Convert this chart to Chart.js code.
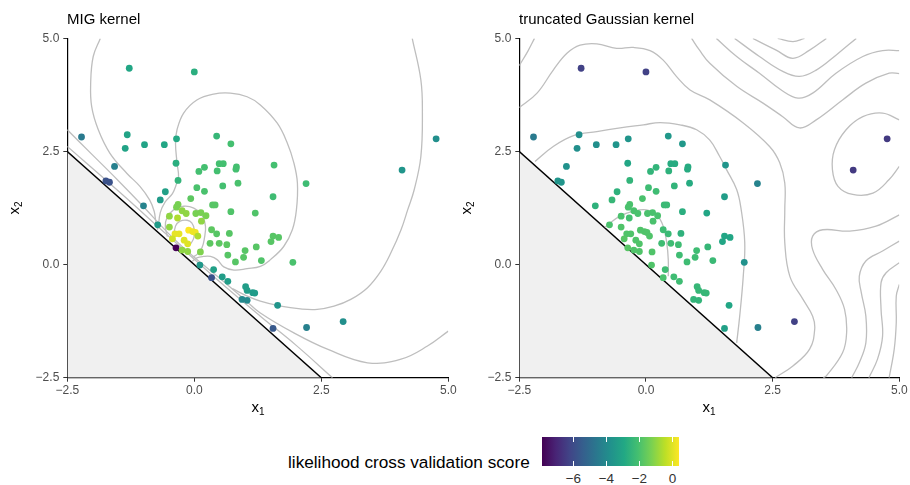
<!DOCTYPE html>
<html>
<head>
<meta charset="utf-8">
<script src="https://cdn.jsdelivr.net/npm/chart.js@4.4.1/dist/chart.umd.min.js"></script>
<style>
  body { margin: 0; background: #fff; font-family: "Liberation Sans", Arial, sans-serif; }
  #wrap { position: relative; width: 910px; height: 485px; overflow: hidden; }
  canvas { position: absolute; top: 0; }
  .ptitle { position: absolute; top: 10px; font-size: 15px; color: #000; white-space: nowrap; }
  .axt { position: absolute; font-size: 15px; color: #000; white-space: nowrap; line-height: 1; }
  .axt sub { font-size: 10px; vertical-align: -3px; }
  .axt.rot { transform: translate(-50%, -50%) rotate(-90deg); }
  .axt.hor { transform: translateX(-50%); }
  #legTitle { position: absolute; left: 288px; top: 452px; font-size: 17.2px; color: #000; white-space: nowrap; }
  #bar { position: absolute; left: 542px; top: 437px; width: 137px; height: 29px; }
  .btick { position: absolute; width: 1px; height: 5px; background: #fff; }
  .blab { position: absolute; top: 471px; font-size: 13.5px; color: #333; transform: translateX(-50%); white-space: nowrap; }
</style>
</head>
<body>
<div id="wrap">
  <canvas id="migChart" width="475" height="400" style="left:0"></canvas>
  <canvas id="gaussChart" width="458" height="400" style="left:452px"></canvas>
  <div class="ptitle" style="left:67px">MIG kernel</div>
  <div class="ptitle" style="left:519px">truncated Gaussian kernel</div>
  <div class="axt hor" style="left:258px; top:399px">x<sub>1</sub></div>
  <div class="axt hor" style="left:709px; top:399px">x<sub>1</sub></div>
  <div class="axt rot" style="left:15px; top:208px">x<sub>2</sub></div>
  <div class="axt rot" style="left:467px; top:208px">x<sub>2</sub></div>
  <div id="legTitle">likelihood cross validation score</div>
  <div id="bar"></div>
</div>
<script>
// sample locations (shared by both panels)
const pointX = [-1.28, 0.00, -2.22, -1.32, -1.36, -0.98, -0.59, -0.35, 0.44, 0.72,
  4.76, -1.57, -1.74, -1.67, -0.36, 0.49, 0.57, 0.20, 0.09, 0.45,
  0.83, 0.82, 1.57, 4.09, -0.32, 0.05, 0.56, 0.86, 2.20, 0.20,
  -0.57, -0.67, -1.00, -0.07, 1.55, 0.36, 0.41, -0.32, -0.35, -0.24,
  -0.16, 0.03, 0.13, 0.23, 0.72, 1.20, -0.72, -0.49, -0.33, 0.14,
  -0.49, -0.38, -0.30, -0.11, -0.03, 0.02, 0.07, 0.34, 0.44, 0.69,
  1.55, 1.66, 1.51, -0.43, -0.20, -0.13, 0.31, 0.49, 0.64, 1.22,
  -0.36, -0.24, -0.13, 0.12, 0.66, 0.81, 1.00, 0.97, 1.32, 1.94,
  0.11, 0.38, 0.34, 0.55, 0.66, 1.01, 1.04, 1.15, 1.19, 0.94,
  1.04, 1.64, 1.55, 2.21, 2.93];
const pointY = [4.34, 4.26, 2.82, 2.87, 2.57, 2.65, 2.65, 2.78, 2.84, 2.67,
  2.78, 2.17, 1.85, 1.82, 2.24, 2.23, 2.23, 2.15, 2.06, 2.07,
  2.16, 2.11, 2.20, 2.09, 1.86, 1.70, 1.74, 1.80, 1.79, 1.62,
  1.61, 1.43, 1.30, 1.46, 1.50, 1.32, 1.32, 1.33, 1.27, 1.19,
  1.13, 1.13, 1.15, 1.08, 1.17, 1.14, 0.88, 1.07, 1.03, 0.96,
  0.83, 0.68, 0.68, 0.76, 0.73, 0.71, 0.63, 0.77, 0.68, 0.69,
  0.63, 0.60, 0.51, 0.57, 0.54, 0.46, 0.47, 0.47, 0.44, 0.39,
  0.37, 0.32, 0.29, 0.28, 0.21, 0.06, 0.31, 0.16, 0.09, 0.05,
  -0.01, -0.11, -0.29, -0.27, -0.37, -0.49, -0.57, -0.62, -0.63, -0.77,
  -0.79, -0.90, -1.41, -1.39, -1.26];

// likelihood cross validation score per sample
const scoreMIG = [-3.0, -2.7, -4.5, -3.1, -3.1, -3.1, -3.0, -2.9, -2.4, -2.1,
  -3.8, -4.3, -5.8, -5.8, -2.7, -2.1, -2.1, -2.1, -2.1, -2.1,
  -2.1, -2.1, -2.1, -3.6, -2.5, -2.0, -2.1, -2.0, -2.2, -2.0,
  -3.2, -3.4, -4.2, -1.7, -2.2, -1.8, -1.8, -1.3, -1.3, -1.0,
  -1.0, -1.3, -1.3, -1.3, -1.9, -1.9, -3.4, -1.0, -0.6, -1.0,
  -1.0, 0.1, 0.1, 0.4, 0.2, 0.2, -0.6, -1.7, -1.8, -1.8,
  -1.8, -1.8, -1.8, -0.2, 0.0, 0.0, -1.7, -1.7, -1.7, -1.8,
  -7.9, -1.0, -1.0, -1.2, -1.8, -1.8, -1.8, -1.8, -1.9, -2.0,
  -3.5, -3.2, -5.8, -3.3, -3.3, -3.3, -3.3, -3.4, -3.4, -4.0,
  -4.0, -3.6, -5.6, -4.3, -3.8];
const scoreGauss = [-6.3, -6.3, -4.5, -3.8, -3.8, -3.8, -3.6, -3.6, -3.5, -3.5,
  -6.5, -3.7, -3.6, -3.6, -3.0, -2.8, -2.8, -2.5, -2.5, -2.6,
  -2.8, -2.8, -3.6, -6.5, -2.5, -2.2, -2.5, -2.8, -4.2, -2.2,
  -2.6, -2.4, -2.6, -2.0, -3.3, -2.3, -2.3, -2.0, -2.0, -2.0,
  -2.0, -2.0, -2.0, -2.0, -2.7, -3.0, -2.0, -2.0, -2.1, -2.0,
  -1.9, -1.9, -1.9, -1.9, -1.9, -1.9, -1.9, -2.2, -2.3, -2.6,
  -3.0, -3.0, -3.0, -1.8, -1.9, -1.9, -2.2, -2.2, -2.2, -2.4,
  -1.8, -1.9, -1.9, -1.9, -2.2, -2.2, -2.2, -2.2, -2.3, -3.7,
  -1.9, -2.2, -2.0, -2.2, -2.2, -2.4, -2.4, -2.4, -2.4, -2.5,
  -2.5, -3.0, -3.2, -4.3, -6.3];

const scoreMin = -7.9;
const scoreMax = 0.4;
const axisTicks = [-2.5, 0, 2.5, 5];
const legendTicks = [-6, -4, -2, 0];
const viridisStops = ["#440154", "#482475", "#414487", "#355f8d", "#2a788e", "#21918c",
  "#22a884", "#44bf70", "#7ad151", "#bddf26", "#fde725"];

// density contour paths, [x1, x2] pairs
const migContours = [
  [[-1.85, 5.0], [-1.99, 4.6], [-2.04, 4.01], [-2.02, 3.49], [-1.89, 2.98], [-1.66, 2.46], [-1.33, 2.02],
   [-1.07, 1.73], [-0.88, 1.43], [-0.79, 1.18], [-0.76, 0.96], [-0.72, 0.77]],
  [[4.29, 5.0], [4.46, 4.08], [4.49, 3.35], [4.46, 2.39], [4.33, 1.66], [4.2, 1.21], [4.07, 0.77], [3.87, 0.26],
   [3.67, -0.15], [3.41, -0.51], [3.08, -0.77], [2.75, -0.92], [2.42, -0.99], [2.09, -0.98], [1.7, -0.92],
   [1.3, -0.81], [1.01, -0.68], [0.75, -0.53]],
  [[-0.71, 0.8], [-0.67, 1.15], [-0.57, 1.39], [-0.43, 1.57], [-0.355, 1.77], [-0.31, 1.95], [-0.34, 2.25],
   [-0.37, 2.69], [-0.34, 2.98], [-0.21, 3.35], [0.05, 3.64], [0.38, 3.77], [0.71, 3.79], [1.04, 3.71],
   [1.3, 3.53], [1.63, 3.13], [1.83, 2.69], [1.96, 2.25], [2.03, 1.8], [2.01, 1.21], [1.93, 0.77], [1.76, 0.4],
   [1.5, 0.11], [1.3, -0.04], [1.04, -0.09], [0.78, -0.12], [0.58, -0.05], [0.45, 0.11], [0.32, 0.18],
   [0.18, 0.18], [0.05, 0.15], [-0.04, 0.07]],
  [[-0.53, 0.62], [-0.57, 0.85], [-0.54, 1.03], [-0.41, 1.21], [-0.21, 1.29], [-0.01, 1.25], [0.15, 1.1],
   [0.22, 0.85], [0.2, 0.59], [0.15, 0.37], [0.05, 0.22], [-0.04, 0.16]],
  [[-0.41, 0.55], [-0.37, 0.85], [-0.28, 0.96], [-0.14, 0.98], [-0.05, 0.92], [0.0, 0.77], [-0.01, 0.59], [-0.08, 0.44]],
  [[-2.5, 2.98], [-2.0, 2.42], [-1.5, 1.86], [-1.0, 1.28], [-0.5, 0.68], [0.0, 0.16], [0.5, -0.3], [1.0, -0.78],
   [1.3, -1.07], [1.96, -1.51], [2.62, -1.87], [3.41, -2.17], [4.07, -2.09], [4.59, -1.8], [5.0, -1.47]],
  [[-2.5, 2.61], [-1.5, 1.63], [-0.5, 0.62], [0.5, -0.38], [1.3, -1.14], [2.0, -1.78], [2.72, -2.5]]
];

const gaussContours = [
  [[-2.2, 5.0], [-2.33, 4.72], [-2.5, 4.4]],
  [[-2.5, 3.47], [-2.15, 3.79], [-1.83, 4.3], [-1.56, 4.67], [-1.3, 4.85], [-0.97, 4.88], [-0.58, 4.78],
   [-0.25, 4.8], [0.08, 4.73], [0.34, 4.52], [0.6, 4.16], [0.87, 3.86], [1.26, 3.64], [1.92, 3.13],
   [2.44, 2.61], [2.64, 2.25], [2.74, 1.8], [2.74, 1.21], [2.74, 0.48], [2.84, -0.26], [3.1, -0.77],
   [3.29, -1.14], [3.33, -1.43], [3.23, -1.87], [2.9, -2.24], [2.55, -2.5]],
  [[-2.19, 2.28], [-1.83, 2.61], [-1.43, 2.85], [-0.97, 2.94], [-0.51, 3.02], [-0.05, 3.09], [0.28, 3.14],
   [0.67, 3.09], [1.0, 2.98], [1.26, 2.75], [1.45, 2.4], [1.59, 2.1], [1.79, 1.66], [1.88, 1.21], [1.95, 0.48],
   [1.92, -0.26], [1.85, -1.14], [1.79, -1.73]],
  [[-0.81, 0.82], [-0.71, 0.92], [-0.51, 1.07], [-0.25, 1.18], [0.01, 1.21], [0.21, 1.1], [0.34, 0.85],
   [0.41, 0.48], [0.44, 0.11], [0.44, -0.26]],
  [[2.6, 5.0], [2.9, 4.93], [3.13, 5.0]],
  [[2.11, 5.0], [2.57, 4.74], [2.9, 4.56], [3.23, 4.74], [3.56, 5.0]],
  [[1.75, 5.0], [2.24, 4.6], [2.7, 4.27], [3.03, 4.16], [3.36, 4.3], [3.75, 4.63], [4.15, 5.0]],
  [[1.39, 5.0], [1.79, 4.6], [2.24, 4.23], [2.67, 3.86], [3.0, 3.68], [3.29, 3.79], [3.75, 4.23], [4.28, 4.6],
   [4.67, 4.73], [5.0, 4.73]],
  [[0.9, 5.0], [1.05, 4.75], [1.26, 4.45], [1.79, 3.94], [2.31, 3.57], [2.7, 3.27], [3.03, 3.02], [3.36, 3.2],
   [3.88, 3.64], [4.34, 4.01], [4.8, 4.23], [5.0, 4.22]],
  [[5.0, 3.2], [4.67, 3.35], [4.28, 3.27], [3.95, 2.98], [3.72, 2.54], [3.68, 2.1], [3.79, 1.73], [4.08, 1.55],
   [4.48, 1.58], [4.8, 1.88], [5.0, 2.17]],
  [[5.0, 1.1], [4.54, 0.85], [4.02, 0.74], [3.49, 0.77], [3.29, 0.63], [3.29, 0.33], [3.49, -0.11], [3.75, -0.55],
   [3.92, -0.99], [3.96, -1.51], [3.88, -1.95], [3.56, -2.46], [3.5, -2.5]],
  [[5.0, 0.52], [4.67, 0.3], [4.34, 0.08], [4.21, -0.26], [4.25, -0.62], [4.34, -1.14], [4.34, -1.73],
   [4.21, -2.17], [4.06, -2.5]],
  [[5.0, 0.04], [4.74, -0.18], [4.64, -0.4], [4.64, -0.99], [4.67, -1.58], [4.57, -2.09], [4.4, -2.5]],
  [[5.0, -0.44], [4.94, -0.7], [4.94, -1.28], [4.9, -1.87], [4.8, -2.5]]
];

// support boundary x1 + x2 = 0, shaded below
const boundaryX = [-2.5, 2.5];
const boundaryY = [2.5, -2.5];

function hexToRgb(h) {
  return [1, 3, 5].map(i => parseInt(h.substr(i, 2), 16));
}

function viridis(v) {
  let t = (v - scoreMin) / (scoreMax - scoreMin);
  t = Math.min(1, Math.max(0, t)) * (viridisStops.length - 1);
  const i = Math.min(viridisStops.length - 2, Math.floor(t));
  const f = t - i;
  const a = hexToRgb(viridisStops[i]);
  const b = hexToRgb(viridisStops[i + 1]);
  const c = a.map((x, k) => Math.round(x + (b[k] - x) * f));
  return `rgb(${c[0]},${c[1]},${c[2]})`;
}

function fmtTick(v) {
  return (v < 0 ? "\u2212" : "") + Math.abs(v).toFixed(1);
}

function axisConfig(isX) {
  return {
    type: "linear",
    min: -2.5,
    max: 5,
    afterBuildTicks: s => { s.ticks = axisTicks.map(v => ({ value: v })); },
    afterFit: s => { if (isX) s.height = 22.3; else s.width = 67.3; },
    grid: { drawOnChartArea: false, drawTicks: true, tickLength: 4, tickColor: "#333", tickWidth: 1 },
    border: { display: true, color: "#000", width: 1.2 },
    ticks: {
      color: "#4d4d4d",
      font: { family: "Liberation Sans", size: 12 },
      padding: isX ? 2 : 4,
      autoSkip: false,
      maxRotation: 0,
      callback: v => fmtTick(v)
    }
  };
}

function renderPanel(canvasId, scores, contours, rightPad) {
  const datasets = [];

  datasets.push({
    data: pointX.map((x, i) => ({ x: x, y: pointY[i] })),
    pointBackgroundColor: scores.map(viridis),
    pointBorderWidth: 0,
    pointRadius: 3.4,
    showLine: false,
    order: 0
  });

  contours.forEach(c => {
    datasets.push({
      data: c.map(p => ({ x: p[0], y: p[1] })),
      showLine: true,
      borderColor: "#bebebe",
      borderWidth: 1.3,
      pointRadius: 0,
      tension: 0.4,
      fill: false,
      order: 1
    });
  });

  datasets.push({
    data: boundaryX.map((x, i) => ({ x: x, y: boundaryY[i] })),
    showLine: true,
    borderColor: "#000",
    borderWidth: 1.5,
    backgroundColor: "#f0f0f0",
    fill: "start",
    pointRadius: 0,
    order: 2
  });

  new Chart(document.getElementById(canvasId), {
    type: "scatter",
    data: { datasets: datasets },
    options: {
      responsive: false,
      animation: false,
      events: [],
      layout: { padding: { top: 38.4, right: rightPad, bottom: 0, left: 0 } },
      plugins: { legend: { display: false }, tooltip: { enabled: false } },
      scales: { x: axisConfig(true), y: axisConfig(false) }
    }
  });
}

renderPanel("migChart", scoreMIG, migContours, 26.7);
renderPanel("gaussChart", scoreGauss, gaussContours, 10.7);

// colour bar legend
const bar = document.getElementById("bar");
bar.style.background = "linear-gradient(to right, " +
  viridisStops.map((c, i) => `${c} ${(i * 100 / (viridisStops.length - 1)).toFixed(1)}%`).join(", ") + ")";
const wrap = document.getElementById("wrap");
legendTicks.forEach(v => {
  const x = 542 + (v - scoreMin) / (scoreMax - scoreMin) * 137;
  [437, 461].forEach(top => {
    const t = document.createElement("div");
    t.className = "btick";
    t.style.left = (x - 0.5) + "px";
    t.style.top = top + "px";
    wrap.appendChild(t);
  });
  const lab = document.createElement("div");
  lab.className = "blab";
  lab.style.left = x + "px";
  lab.textContent = (v < 0 ? "\u2212" : "") + Math.abs(v);
  wrap.appendChild(lab);
});
</script>
</body>
</html>
